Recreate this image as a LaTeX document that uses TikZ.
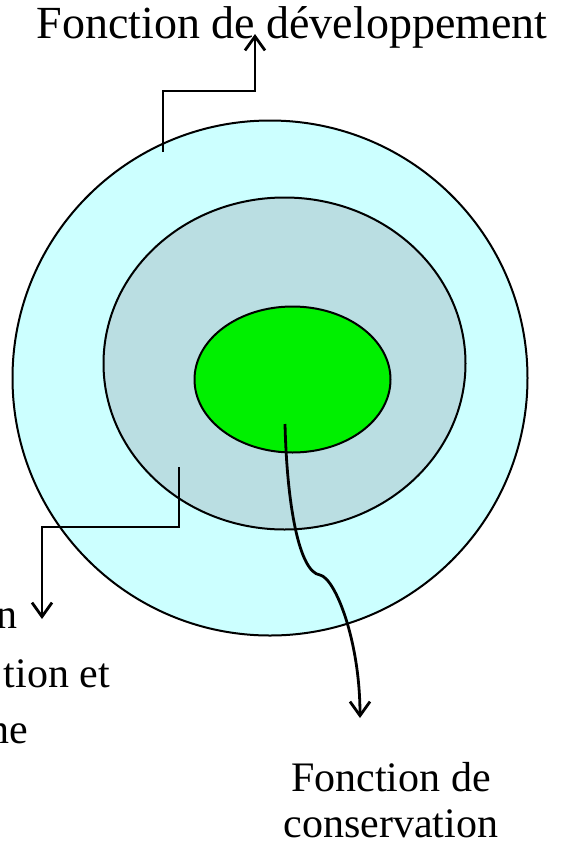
\documentclass[tikz,border=0pt]{standalone}
\usepackage{fontspec}
\setmainfont{Liberation Serif}
\usetikzlibrary{shapes.geometric,arrows.meta}
\definecolor{outerc}{RGB}{204,255,255}
\definecolor{midc}{RGB}{186,222,226}
\definecolor{innerc}{RGB}{0,240,0}
\tikzset{
  ring/.style={ellipse, draw=black, line width=2pt, inner sep=0pt},
  conn/.style={line width=2.8pt, -{Straight Barb[length=14pt,width=20pt]}},
  lbl/.style={inner sep=0pt, font=\fontsize{42}{48}\selectfont}
}
\begin{document}
\begin{tikzpicture}[x=1pt,y=-1pt]
\useasboundingbox (0,0) rectangle (573,847);
\node[ring, fill=outerc, minimum width=515pt, minimum height=515pt] (outer) at (270,378) {};
\node[ring, fill=midc, minimum width=362pt, minimum height=332pt] (mid) at (284.5,363.5) {};
\node[ring, fill=innerc, minimum width=196pt, minimum height=146pt] (inner) at (292.5,379.5) {};
% labels
\node[lbl, font=\fontsize{46}{52}\selectfont, anchor=base] (dev) at (292,38) {Fonction de développement};
\node[lbl, anchor=base] (cons1) at (391,791) {Fonction de};
\node[lbl, anchor=base] (cons2) at (391,837) {conservation};
\node[lbl, anchor=base east] (left1) at (18,628) {n};
\node[lbl, anchor=base east] (left2) at (110,687) {tion et};
\node[lbl, anchor=base east] (left3) at (28,743) {ne};
% connector anchors
\coordinate (sOuter) at (163,152);
\coordinate (tDev) at (255,34);
\coordinate (sMid) at (179,467);
\coordinate (tLeft) at (42,619);
\coordinate (sInner) at (285,424);
\coordinate (kink) at (320,575);
\coordinate (tCons) at (360,718);
\draw[conn] (sOuter) -- (sOuter |- 0,91) -| (tDev);
\draw[conn] (sMid) -- (sMid |- 0,527) -| (tLeft);
\draw[conn] (sInner) .. controls (287,505) and (299,572) .. (kink)
  .. controls (335,578) and (360,640) .. (tCons);
\end{tikzpicture}
\end{document}
